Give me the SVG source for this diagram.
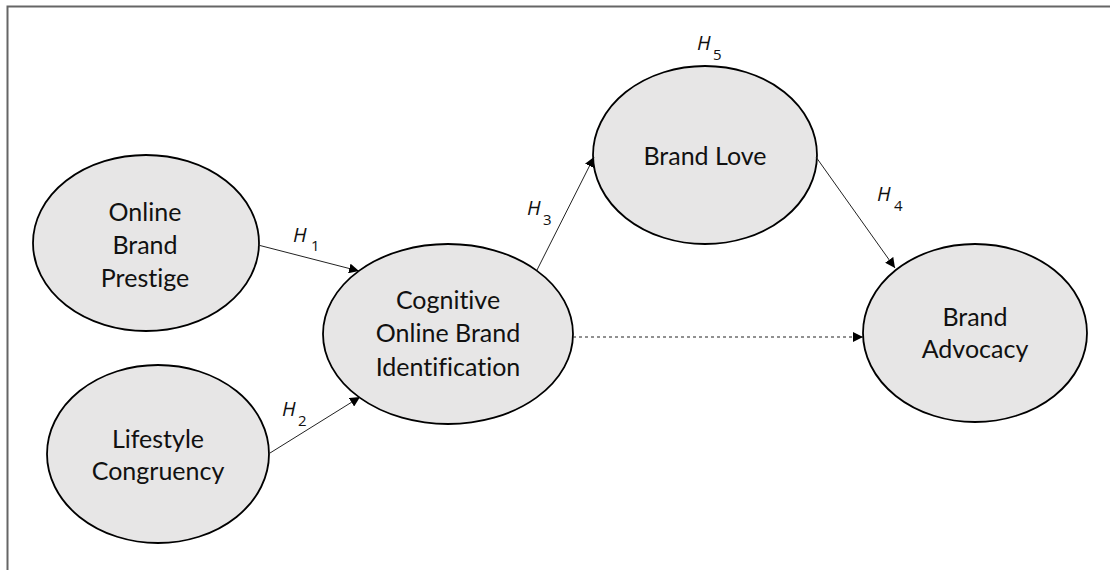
<svg xmlns="http://www.w3.org/2000/svg" width="1110" height="570" viewBox="0 0 1110 570">
<style>
.node ellipse{fill:#e7e6e6;stroke:#000;stroke-width:1.8}
.lbl{font-family:Lato,"Open Sans","Liberation Sans",sans-serif;font-size:25px;fill:#111;text-anchor:middle;font-variant-ligatures:none}
.h{font-family:"Open Sans","Liberation Sans",sans-serif;font-size:20px;font-style:italic;fill:#111}
.sub{font-family:"Open Sans","Liberation Sans",sans-serif;font-size:15px;fill:#111}
.edge{stroke:#222;stroke-width:1;fill:none}
</style>
<defs>
<marker id="ah" viewBox="0 0 10 10" refX="10" refY="5" markerWidth="10" markerHeight="10" markerUnits="userSpaceOnUse" orient="auto">
<path d="M0,0 L10,5 L0,10 z" fill="#000"/>
</marker>
</defs>
<rect width="1110" height="570" fill="#fff"/>
<path d="M7.5,570 V6.5 H1110" fill="none" stroke="#666" stroke-width="2"/>
<g id="n1" class="node">
<ellipse cx="146" cy="243" rx="113" ry="88"/>
<text class="lbl" x="145" y="221">Online</text>
<text class="lbl" x="145" y="254">Brand</text>
<text class="lbl" x="145" y="287">Prestige</text>
</g>
<g id="n2" class="node">
<ellipse cx="158" cy="454" rx="111" ry="89"/>
<text class="lbl" x="158" y="448">Lifestyle</text>
<text class="lbl" x="158" y="480">Congruency</text>
</g>
<g id="n3" class="node">
<ellipse cx="448" cy="334" rx="125" ry="90"/>
<text class="lbl" x="448" y="309">Cognitive</text>
<text class="lbl" x="448" y="342">Online Brand</text>
<text class="lbl" x="448" y="376">Identification</text>
</g>
<g id="n4" class="node">
<ellipse cx="705" cy="155" rx="112" ry="89"/>
<text class="lbl" x="705" y="165">Brand Love</text>
</g>
<g id="n5" class="node">
<ellipse cx="975" cy="333" rx="112" ry="89"/>
<text class="lbl" x="975" y="326">Brand</text>
<text class="lbl" x="975" y="358">Advocacy</text>
</g>
<g id="edges">
<line class="edge" x1="258" y1="245" x2="359" y2="271" marker-end="url(#ah)"/>
<line class="edge" x1="270" y1="453" x2="360" y2="397" marker-end="url(#ah)"/>
<line class="edge" x1="537" y1="270" x2="594" y2="157" marker-end="url(#ah)"/>
<line class="edge" x1="816" y1="157" x2="895" y2="268" marker-end="url(#ah)"/>
<line class="edge" x1="573" y1="337" x2="863" y2="337" stroke-dasharray="3,3" marker-end="url(#ah)"/>
</g>
<g id="labels">
<text class="h" x="293" y="242">H</text><text class="sub" x="311" y="251">1</text>
<text class="h" x="282" y="416">H</text><text class="sub" x="298" y="426">2</text>
<text class="h" x="527" y="215">H</text><text class="sub" x="543" y="225">3</text>
<text class="h" x="697" y="50">H</text><text class="sub" x="713" y="60">5</text>
<text class="h" x="877" y="201">H</text><text class="sub" x="894" y="211">4</text>
</g>
</svg>
